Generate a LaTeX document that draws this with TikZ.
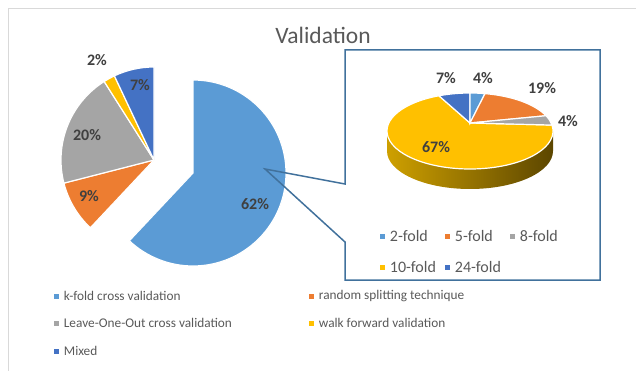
\documentclass[tikz,border=0pt]{standalone}
\usepackage{fontspec}
\setmainfont{Carlito}
\usetikzlibrary{positioning}

\definecolor{kfold}{RGB}{91,155,213}
\definecolor{randsplit}{RGB}{237,125,49}
\definecolor{leaveout}{RGB}{165,165,165}
\definecolor{walkfwd}{RGB}{255,192,0}
\definecolor{mixed}{RGB}{68,114,196}
\definecolor{pcttext}{RGB}{64,64,64}
\definecolor{legtext}{RGB}{89,89,89}
\definecolor{zoomline}{RGB}{65,113,156}
\definecolor{framegray}{RGB}{217,217,217}

\tikzset{
  slice/.style={draw=white, line width=1.2},
  pct/.style={text=pcttext, font=\fontsize{16}{18}\selectfont\bfseries, inner sep=0pt},
  legmark/.style={minimum size=5pt, inner sep=0pt},
  legtxt/.style={text=legtext, font=\fontsize{13.3}{15}\selectfont, inner sep=0pt, anchor=west},
  insettxt/.style={text=legtext, font=\fontsize{16}{18}\selectfont, inner sep=0pt, anchor=west},
}

\begin{document}
\begin{tikzpicture}[x=1pt,y=1pt,yscale=-1]
\useasboundingbox (0,0) rectangle (636,371);

%Straight Lines: chart frame
\coordinate (frameR) at (636,9);
\coordinate (frameC) at (8,9);
\coordinate (frameB) at (8,371);
\draw [framegray, line width=1]  (frameR) -- (frameC) -- (frameB) ;

% Text Node
\node [text=legtext, font=\fontsize{23.5}{26}\selectfont] (title) at (323,35) {Validation};

%Shape: main pie, exploded slice
\coordinate (cbig) at (193,173);
\coordinate (crest) at (154,160);
\draw [slice, fill=kfold] (cbig) -- ++(-90:93) arc[start angle=-90, end angle=133.2, radius=93] -- cycle ;
\draw [slice, fill=randsplit] (crest) -- ++(133.2:93) arc[start angle=133.2, end angle=165.6, radius=93] -- cycle ;
\draw [slice, fill=leaveout] (crest) -- ++(165.6:93) arc[start angle=165.6, end angle=237.6, radius=93] -- cycle ;
\draw [slice, fill=walkfwd] (crest) -- ++(237.6:93) arc[start angle=237.6, end angle=244.8, radius=93] -- cycle ;
\draw [slice, fill=mixed] (crest) -- ++(244.8:93) arc[start angle=244.8, end angle=270, radius=93] -- cycle ;

% Text Node
\node [pct] (p62) at (255,204) {62\%};
\node [pct] (p9) at (89,196) {9\%};
\node [pct] (p20) at (87,135) {20\%};
\node [pct] (p2) at (97,60) {2\%};
\node [pct] (p7) at (140,85) {7\%};

%Straight Lines: zoom box
\coordinate (zoomfrom) at (265,169);
\coordinate (boxA) at (345,184);
\coordinate (boxB) at (345,50);
\coordinate (boxC) at (600,50);
\coordinate (boxD) at (600,280);
\coordinate (boxE) at (345,280);
\coordinate (boxF) at (345,242);
\draw [zoomline, line width=1.5, line join=miter] (zoomfrom) -- (boxA) -- (boxB) -- (boxC) -- (boxD) -- (boxE) -- (boxF) -- cycle ;

%Shape: 3d pie, side
\coordinate (cell) at (470,131);
\coordinate (cvert) at (470,123);
\shade [left color={rgb,255:red,206;green,160;blue,0}, middle color={rgb,255:red,150;green,114;blue,0}, right color={rgb,255:red,92;green,70;blue,0}]
  ([shift={(0:83 and 38)}]cell) arc[start angle=0, end angle=180, x radius=83, y radius=38] -- ++(0,20)
  arc[start angle=180, end angle=0, x radius=83, y radius=38] -- cycle ;

%Shape: 3d pie, top
\draw [slice, fill=walkfwd] (cvert) -- ([shift={(-9:83 and 38)}]cell) arc[start angle=-9, end angle=248, x radius=83, y radius=38] -- cycle ;
\draw [slice, fill=mixed] (cvert) -- ([shift={(248:83 and 38)}]cell) arc[start angle=248, end angle=270, x radius=83, y radius=38] -- cycle ;
\draw [slice, fill=kfold] (cvert) -- ([shift={(-90:83 and 38)}]cell) arc[start angle=-90, end angle=-79.6, x radius=83, y radius=38] -- cycle ;
\draw [slice, fill=randsplit] (cvert) -- ([shift={(-79.6:83 and 38)}]cell) arc[start angle=-79.6, end angle=-23.7, x radius=83, y radius=38] -- cycle ;
\draw [slice, fill=leaveout] (cvert) -- ([shift={(-23.7:83 and 38)}]cell) arc[start angle=-23.7, end angle=-9, x radius=83, y radius=38] -- cycle ;

% Text Node
\node [pct] (q7) at (446,78) {7\%};
\node [pct] (q4a) at (483,78) {4\%};
\node [pct] (q19) at (542,88) {19\%};
\node [pct] (q4b) at (568,121) {4\%};
\node [pct] (q67) at (436,147) {67\%};

%Legend: inset
\node [legmark, fill=kfold] (im1) at (382,236) {};
\node [insettxt, right=5pt of im1] (il1) {2-fold};
\node [legmark, fill=randsplit] (im2) at (447,236) {};
\node [insettxt, right=5pt of im2] (il2) {5-fold};
\node [legmark, fill=leaveout] (im3) at (512,236) {};
\node [insettxt, right=5pt of im3] (il3) {8-fold};
\node [legmark, fill=walkfwd] (im4) at (382,267) {};
\node [insettxt, right=5pt of im4] (il4) {10-fold};
\node [legmark, fill=mixed] (im5) at (447,267) {};
\node [insettxt, right=5pt of im5] (il5) {24-fold};

%Legend: main
\node [legmark, fill=kfold] (lm1) at (56,296) {};
\node [legtxt, right=5pt of lm1] (ll1) {k-fold cross validation};
\node [legmark, fill=randsplit] (lm2) at (311,296) {};
\node [legtxt, right=5pt of lm2] (ll2) {random splitting technique};
\node [legmark, fill=leaveout] (lm3) at (56,323) {};
\node [legtxt, right=5pt of lm3] (ll3) {Leave-One-Out cross validation};
\node [legmark, fill=walkfwd] (lm4) at (311,323) {};
\node [legtxt, right=5pt of lm4] (ll4) {walk forward validation};
\node [legmark, fill=mixed] (lm5) at (56,351) {};
\node [legtxt, right=5pt of lm5] (ll5) {Mixed};

\end{tikzpicture}
\end{document}
